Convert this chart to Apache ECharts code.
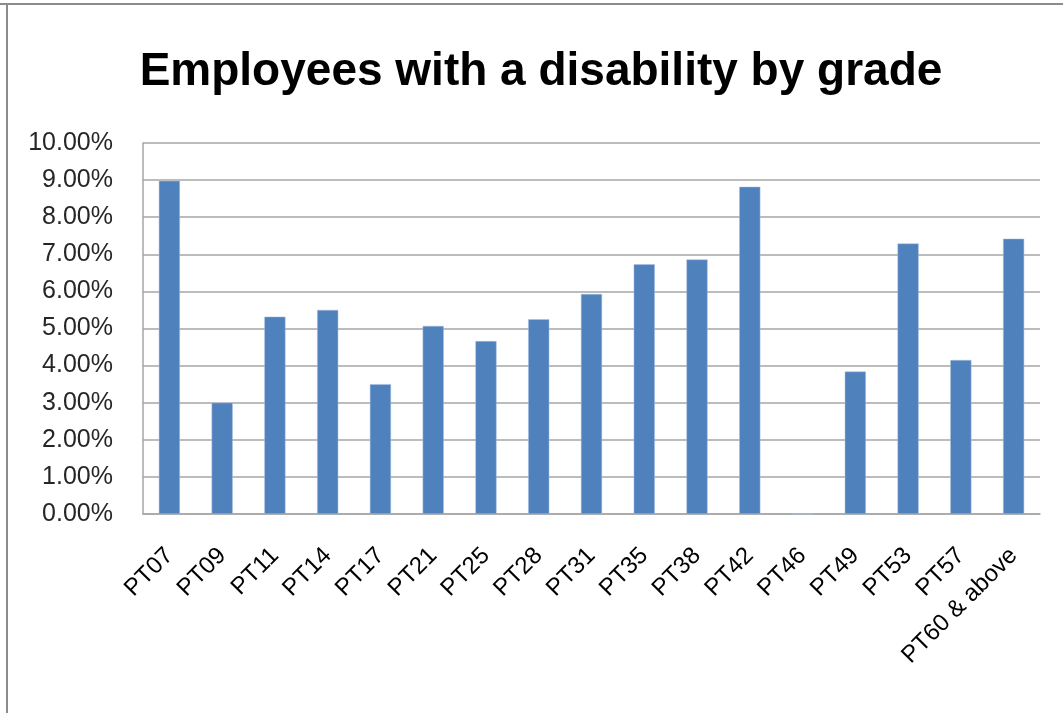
<!DOCTYPE html>
<html>
<head>
<meta charset="utf-8">
<script src="https://cdn.jsdelivr.net/npm/echarts@6/dist/echarts.min.js"></script>
<style>
html,body{margin:0;padding:0;background:#fff;}
#chart{width:1063px;height:713px;}
</style>
</head>
<body>
<div id="chart"></div>
<script>
const titleText = 'Employees with a disability by grade';
const categories = ['PT07','PT09','PT11','PT14','PT17','PT21','PT25','PT28','PT31','PT35','PT38','PT42','PT46','PT49','PT53','PT57','PT60 & above'];
const values = [8.98, 3.00, 5.32, 5.50, 3.50, 5.07, 4.66, 5.25, 5.93, 6.73, 6.86, 8.82, 0, 3.84, 7.29, 4.15, 7.42];
const yMin = 0, yMax = 10, yStep = 1;

const chart = echarts.init(document.getElementById('chart'), null, {renderer:'canvas'});
chart.setOption({
  backgroundColor: '#ffffff',
  animation: false,
  title: {
    text: titleText,
    left: 536,
    textAlign: 'center',
    top: 44,
    textStyle: {fontFamily: 'Liberation Sans', fontWeight: 'bold', fontSize: 46, color: '#000'}
  },
  graphic: [
    {type:'line', shape:{x1:0,y1:4,x2:1063,y2:4}, style:{stroke:'#8c8c8c', lineWidth:2}, silent:true},
    {type:'line', shape:{x1:7,y1:4,x2:7,y2:713}, style:{stroke:'#8c8c8c', lineWidth:2}, silent:true}
  ],
  grid: {left: 143, right: 23, top: 143, bottom: 199, containLabel: false},
  xAxis: {
    type: 'category',
    data: categories,
    axisLine: {show: true, lineStyle: {color: '#a6a6a6', width: 1.5}},
    axisTick: {show: false},
    axisLabel: {
      interval: 0, rotate: 45, margin: 38,
      fontFamily: 'Liberation Sans', fontSize: 24, color: '#000'
    }
  },
  yAxis: {
    type: 'value',
    min: yMin, max: yMax, interval: yStep,
    axisLine: {show: true, lineStyle: {color: '#a6a6a6', width: 1.5}},
    axisTick: {show: false},
    splitLine: {show: true, lineStyle: {color: '#a6a6a6', width: 1.5}},
    axisLabel: {
      margin: 30,
      fontFamily: 'Liberation Sans', fontSize: 25, color: '#262626',
      formatter: v => v.toFixed(2) + '%'
    }
  },
  series: [{
    type: 'bar',
    data: values,
    barWidth: '40%',
    itemStyle: {color: '#4f81bd', borderColor: '#a9c0e0', borderWidth: 0.5}
  }]
});
</script>
</body>
</html>
